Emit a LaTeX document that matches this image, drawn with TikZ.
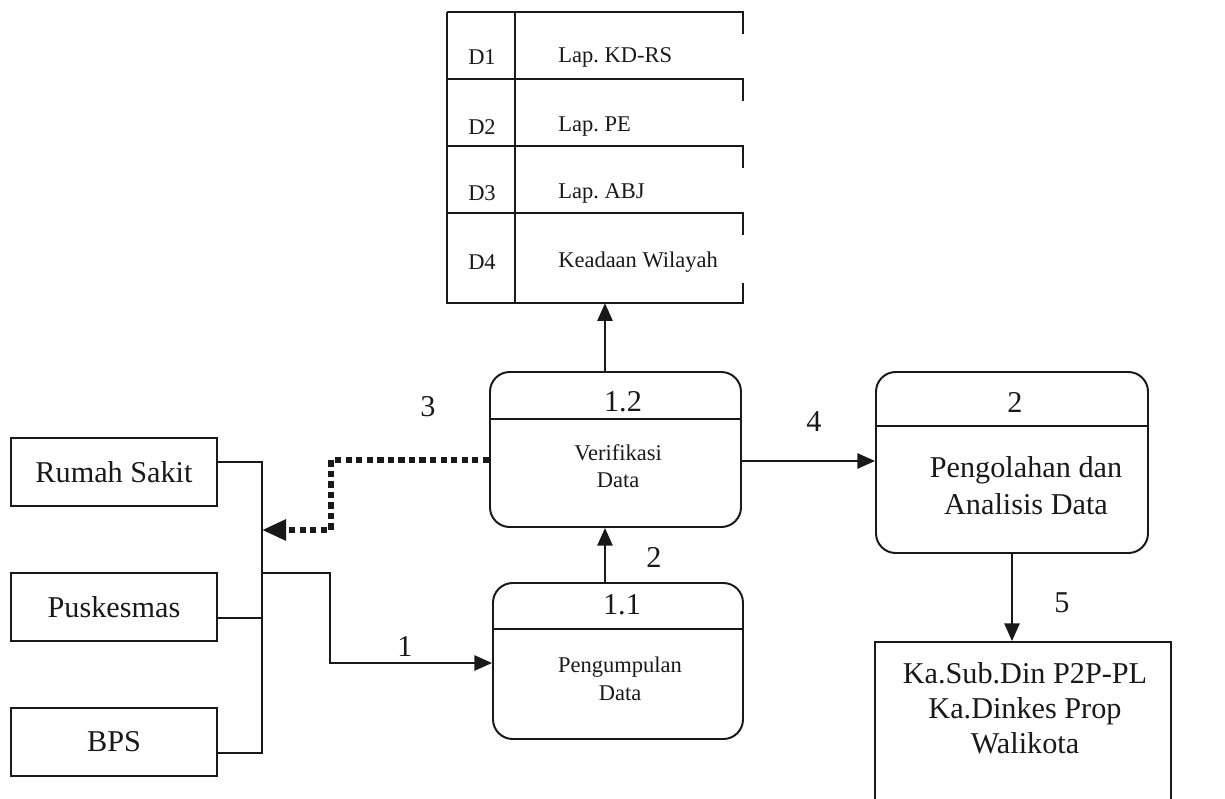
\documentclass[tikz,border=0pt]{standalone}
\usepackage{fontspec}
\setmainfont{Liberation Serif}
\frenchspacing
\usetikzlibrary{arrows.meta,positioning,fit}
\definecolor{dfdInk}{RGB}{25,25,25}
\tikzset{
  bigtext/.style={font=\fontsize{21.5}{25}\selectfont, text=dfdInk},
  smalltext/.style={font=\fontsize{16}{19.5}\selectfont, text=dfdInk},
  entitybox/.style={
    rectangle, draw=dfdInk, line width=1.4pt,
    minimum width=5.15cm, minimum height=1.7cm, bigtext},
  procbox/.style={
    rectangle, rounded corners=14pt, draw=dfdInk, line width=1.4pt, inner sep=0pt},
  outbox/.style={
    rectangle, draw=dfdInk, line width=1.4pt, inner sep=0pt},
  storeline/.style={draw=dfdInk, line width=1.3pt},
  arrowline/.style={-{Triangle[length=0.44cm, width=0.38cm]}, line width=1.4pt, draw=dfdInk},
  dotarrow/.style={-{Triangle[length=0.6cm, width=0.5cm]}, line width=4pt, draw=dfdInk,
    dash pattern=on 4.5pt off 3pt},
  flowlabel/.style={bigtext, inner sep=1pt}
}
\begin{document}
\begin{tikzpicture}[x=0.025cm, y=-0.025cm]
    \useasboundingbox (0,0) rectangle (1225,798);

    % data store
    \foreach \ry in {12,79,146,213}
        \draw[storeline] (447,\ry) -- (743,\ry) -- ++(0,22);
    \draw[storeline] (447,12) -- (447,303) -- (743,303) -- ++(0,-20);
    \draw[storeline] (515,12) -- (515,303);
    \node[fit={(447,12) (743,303)}, inner sep=0pt] (store) {};
    \foreach \id/\lbl/\ty in {D1/Lap. KD-RS/57, D2/Lap. PE/127,
                              D3/Lap. ABJ/193, D4/Keadaan Wilayah/262} {
        \node[smalltext] (\id) at (482,\ty) {\id};
        \node[smalltext, anchor=west, inner sep=0pt] (\id name) at (558,\ty) {\lbl};
    }

    % external entities
    \node[entitybox] (rs) at (114,472) {Rumah Sakit};
    \node[entitybox] (pk) at (114,607) {Puskesmas};
    \node[entitybox] (bps) at (114,742) {BPS};

    % processes
    \node[procbox, fit={(490,372) (741,527)}] (p12) {};
    \draw[storeline] (p12.west |- 0,419) -- (p12.east |- 0,419);
    \node[bigtext] (n12) at (623,402) {1.2};
    \node[smalltext, align=center] (t12) at (618,466) {Verifikasi\\Data};

    \node[procbox, fit={(493,583) (743,739)}] (p11) {};
    \draw[storeline] (p11.west |- 0,629) -- (p11.east |- 0,629);
    \node[bigtext] (n11) at (622,605) {1.1};
    \node[smalltext, align=center] (t11) at (620,679) {Pengumpulan\\Data};

    \node[procbox, fit={(876,372) (1148,553)}] (p2) {};
    \draw[storeline] (p2.west |- 0,426) -- (p2.east |- 0,426);
    \node[bigtext] (n2) at (1015,402) {2};
    \node[bigtext, align=center, font=\fontsize{21.5}{26.5}\selectfont] (t2) at (1026,486)
        {Pengolahan dan\\Analisis Data};

    \node[outbox, fit={(875,642) (1171,850)}] (out) {};
    \node[bigtext, align=center] (tout) at (1025,708)
        {Ka.Sub.Din P2P-PL\\Ka.Dinkes Prop\\Walikota};

    % bus from the entities
    \coordinate (busTop) at (262,462);
    \coordinate (busBot) at (262,753);
    \coordinate (pkJoin) at (262,618);
    \coordinate (busJoin) at (262,573);
    \coordinate (busArrow) at (262,530);
    \draw[storeline] (busTop -| rs.east) -- (busTop) -- (busBot) -- (busBot -| bps.east);
    \draw[storeline] (pkJoin -| pk.east) -- (pkJoin);

    % flows
    \coordinate (bend1) at (330,663);
    \draw[arrowline] (busJoin) -| (bend1) -- (bend1 -| p11.west);
    \coordinate (dotBend) at (331,460);
    \draw[dotarrow] (dotBend -| p12.west) -- (dotBend) |- (busArrow);
    \coordinate (upLine) at (605,0);
    \draw[arrowline] (p11.north -| upLine) -- (p12.south -| upLine);
    \draw[arrowline] (p12.north -| upLine) -- (store.south -| upLine);
    \coordinate (lvl4) at (800,461);
    \draw[arrowline] (lvl4 -| p12.east) -- (lvl4 -| p2.west);
    \draw[arrowline] (p2.south) -- (p2.south |- out.north);

    \node[flowlabel] (f1) at (405,647) {1};
    \node[flowlabel] (f2) at (654,557) {2};
    \node[flowlabel] (f3) at (428,407) {3};
    \node[flowlabel] (f4) at (814,422) {4};
    \node[flowlabel] (f5) at (1062,603) {5};
\end{tikzpicture}
\end{document}
